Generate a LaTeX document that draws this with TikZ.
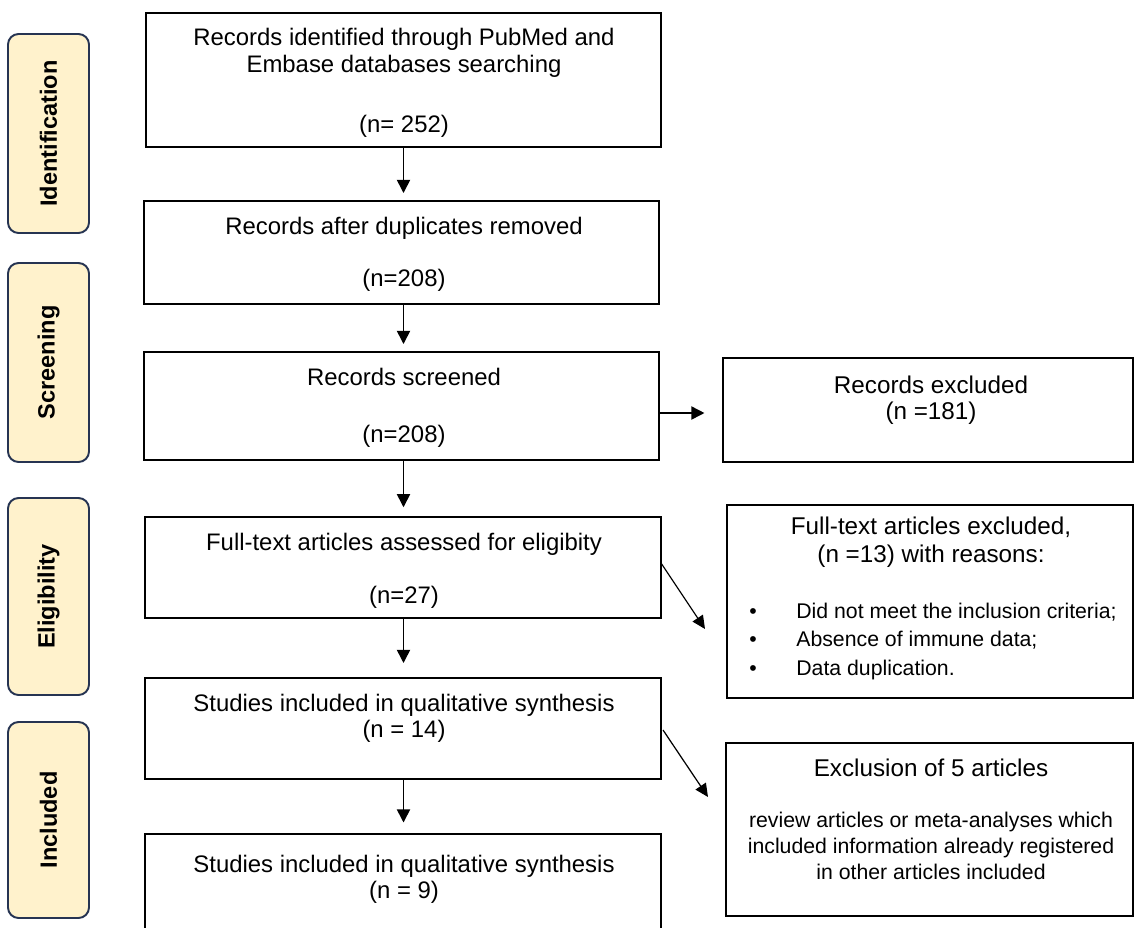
\documentclass[tikz,border=0pt]{standalone}
\usepackage{fontspec}
\setmainfont{Liberation Sans}
\usetikzlibrary{arrows.meta,fit,calc}
\definecolor{stagefill}{RGB}{255,242,204}
\definecolor{stagedraw}{RGB}{38,52,82}
\begin{document}
\begin{tikzpicture}[x=0.02cm,y=-0.02cm,
  box/.style={draw, line width=1.1pt, inner sep=0pt},
  stage/.style={draw=stagedraw, fill=stagefill, line width=1.1pt, rounded corners=6pt, inner sep=0pt},
  stagetxt/.style={rotate=90, font=\fontsize{13.4}{16}\selectfont\bfseries},
  txt/.style={anchor=base, inner sep=0pt, font=\fontsize{13.6}{16}\selectfont},
  htxt/.style={anchor=base, inner sep=0pt, font=\fontsize{13.8}{16}\selectfont},
  rtxt/.style={anchor=base, inner sep=0pt, font=\fontsize{12.1}{15}\selectfont},
  ltxt/.style={anchor=base west, inner sep=0pt, font=\fontsize{12.1}{15}\selectfont},
  arr/.style={line width=0.9pt, -{Triangle[length=7.5pt,width=7.5pt]}},
  darr/.style={line width=0.7pt, -{Triangle[length=7.5pt,width=7pt]}}
]
\clip (0,0) rectangle (1135,927);
\fill[white] (0,0) rectangle (1135,927);

% stage labels
\node[stage, fit={(8,34)(89,233)}] (s1) {};
\node[stagetxt] at (s1.center) {Identification};
\node[stage, fit={(8,263)(89,462)}] (s2) {};
\node[stagetxt] at (s2.center) {Screening};
\node[stage, fit={(8,498)(89,695)}] (s3) {};
\node[stagetxt] at (s3.center) {Eligibility};
\node[stage, fit={(8,722)(89,918)}] (s4) {};
\node[stagetxt] at (s4.center) {Included};

% main column
\node[box, fit={(146,13)(661,147)}] (b1) {};
\node[txt] at (404,45) {Records identified through PubMed and};
\node[txt] at (404,72) {Embase databases searching};
\node[txt] at (404,132) {(n= 252)};

\node[box, fit={(144,201)(659,304)}] (b2) {};
\node[txt] at (404,234) {Records after duplicates removed};
\node[txt] at (404,286) {(n=208)};

\node[box, fit={(144,352)(659,460)}] (b3) {};
\node[txt] at (404,385) {Records screened};
\node[txt] at (404,442) {(n=208)};

\node[box, fit={(145,517)(661,618)}] (b4) {};
\node[txt] at (404,550) {Full-text articles assessed for eligibity};
\node[txt] at (404,603) {(n=27)};

\node[box, fit={(145,678)(661,779)}] (b5) {};
\node[txt] at (404,711) {Studies included in qualitative synthesis};
\node[txt] at (404,737) {(n = 14)};

\node[box, fit={(145,834)(661,940)}] (b6) {};
\node[txt] at (404,872) {Studies included in qualitative synthesis};
\node[txt] at (404,898) {(n = 9)};

% right column
\node[box, fit={(723,358)(1133,462)}] (rex) {};
\node[htxt] at (931,393) {Records excluded};
\node[htxt] at (931,419) {(n =181)};

\node[box, fit={(727,505)(1133,698)}] (fte) {};
\node[htxt] at (931,534) {Full-text articles excluded,};
\node[htxt] at (931,562) {(n =13) with reasons:};
\node[rtxt] at (753,618) {•};
\node[ltxt] at (796,618) {Did not meet the inclusion criteria;};
\node[rtxt] at (753,646) {•};
\node[ltxt] at (796,646) {Absence of immune data;};
\node[rtxt] at (753,675) {•};
\node[ltxt] at (796,675) {Data duplication.};

\node[box, fit={(726,743)(1133,916)}] (exc) {};
\node[htxt] at (931,776) {Exclusion of 5 articles};
\node[rtxt] at (931,827) {review articles or meta-analyses which};
\node[rtxt] at (931,853) {included information already registered};
\node[rtxt] at (931,879) {in other articles included};

% connectors
\draw[arr, shorten >=4pt] (b1.south) -- (b1.south |- b2.north);
\draw[arr, shorten >=4pt] (b2.south -| b1.south) -- (b1.south |- b3.north);
\draw[arr, shorten >=5pt] (b3.south -| b1.south) -- (b1.south |- b4.north);
\draw[arr, shorten >=8pt] (b4.south -| b1.south) -- (b1.south |- b5.north);
\draw[arr, shorten >=6pt] (b5.south -| b1.south) -- (b1.south |- b6.north);
\coordinate (h1) at (660,413);
\draw[arr, shorten >=10pt] (h1) -- (h1 -| rex.west);
\coordinate (d1s) at (661,563);
\coordinate (d1e) at (705,629);
\draw[darr] (d1s) -- (d1e);
\coordinate (d2s) at (663,730);
\coordinate (d2e) at (708,797);
\draw[darr] (d2s) -- (d2e);
\end{tikzpicture}
\end{document}
